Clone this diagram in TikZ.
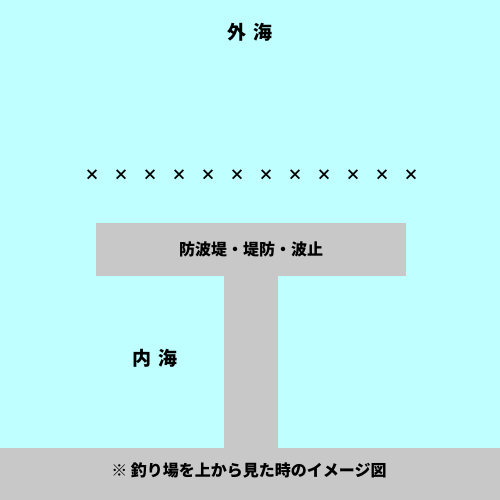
\documentclass[tikz,border=0pt]{standalone}
\usepackage{fontspec}
\newfontfamily\jpfont{Noto Sans CJK JP}
\usetikzlibrary{positioning}
\definecolor{sea}{RGB}{192,255,255}
\definecolor{pier}{RGB}{200,200,200}

\begin{document}
\begin{tikzpicture}[x=1pt,y=1pt,font=\jpfont\bfseries]
        % Sea
        \fill[sea] (0,0) rectangle (500,500);
        \useasboundingbox (0,0) rectangle (500,500);
        % Breakwater, stem and shore
        \fill[pier] (96,224) rectangle (406,277);
        \fill[pier] (224,52) rectangle (278,224);
        \fill[pier] (0,0) rectangle (500,52);
        % Row of crosses
        \foreach \i in {0,...,11}
            \node[font=\jpfont\bfseries\fontsize{15}{15}\selectfont] (x\i) at (92+29*\i,325) {×};
        % Labels
        \node[font=\jpfont\bfseries\fontsize{19}{19}\selectfont] (outer) at (250,468) {外\hspace{0.35em}海};
        \node[font=\jpfont\bfseries\fontsize{19}{19}\selectfont] (inner) at (155,142) {内\hspace{0.35em}海};
        \node[font=\jpfont\bfseries\fontsize{16}{16}\selectfont] (wall) at (251,251) {防波堤・堤防・波止};
        \node[font=\jpfont\bfseries\fontsize{16}{16}\selectfont] (note) at (249,30) {※ 釣り場を上から見た時のイメージ図};
\end{tikzpicture}
\end{document}
